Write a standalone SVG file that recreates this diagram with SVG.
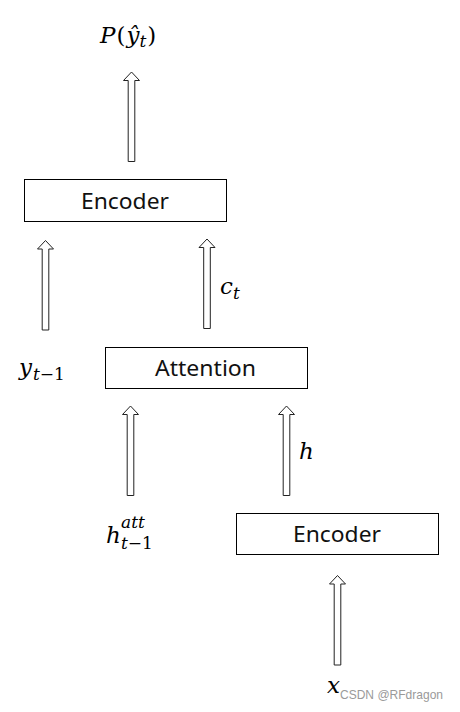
<svg xmlns="http://www.w3.org/2000/svg" width="460" height="712" viewBox="0 0 460 712">
<style>
.box{fill:#fff;stroke:#000;stroke-width:1}
.lbl{font-family:"Noto Sans","Liberation Sans",sans-serif;font-size:21px;fill:#111;text-anchor:middle}
.m{font-family:"DejaVu Serif","Liberation Serif",serif;font-style:italic;font-size:23px;fill:#000}
.s{font-size:17px}
.up{font-style:normal}
.arr{fill:#fff;stroke:#222;stroke-width:1}
.wm{font-family:"Liberation Sans",sans-serif;font-size:13px;fill:#9a9a9a}
</style>
<defs>
<path id="hollow" d="M0,0 L8,8.5 L3.3,8.5 L3.3,89.5 L-3.3,89.5 L-3.3,8.5 L-8,8.5 Z"/>
</defs>
<rect width="460" height="712" fill="#fff"/>
<g id="connectors">
<use href="#hollow" class="arr" x="131.5" y="72"/>
<use href="#hollow" class="arr" x="45.5" y="240.5"/>
<use href="#hollow" class="arr" x="207" y="239"/>
<use href="#hollow" class="arr" x="130.5" y="406"/>
<use href="#hollow" class="arr" x="286.5" y="406"/>
<use href="#hollow" class="arr" x="337.5" y="575.5"/>
</g>
<g id="decoder">
<rect class="box" x="24.5" y="179.5" width="202" height="42"/>
<text class="lbl" x="125" y="208.5" textLength="88" lengthAdjust="spacingAndGlyphs">Encoder</text>
</g>
<g id="attention">
<rect class="box" x="105.5" y="347.5" width="202" height="41"/>
<text class="lbl" x="205.5" y="376" textLength="101" lengthAdjust="spacingAndGlyphs">Attention</text>
</g>
<g id="encoder">
<rect class="box" x="236.5" y="513.5" width="202" height="41"/>
<text class="lbl" x="337" y="542" textLength="88" lengthAdjust="spacingAndGlyphs">Encoder</text>
</g>
<g id="label-p">
<text class="m" x="100" y="43">P<tspan class="up" dx="1">(</tspan><tspan dx="1">ŷ</tspan><tspan class="s" dy="4">t</tspan><tspan class="up" dy="-4" dx="1">)</tspan></text>
</g>
<g id="label-y">
<text class="m" x="19" y="375">y<tspan class="s" dy="5" dx="1">t<tspan class="up">−1</tspan></tspan></text>
</g>
<g id="label-c">
<text class="m" x="220" y="294">c<tspan class="s" dy="5">t</tspan></text>
</g>
<g id="label-h">
<text class="m" x="299" y="459">h</text>
</g>
<g id="label-hatt">
<text class="m" x="106" y="543">h</text>
<text class="m s" x="121" y="528">att</text>
<text class="m s" x="121" y="549">t<tspan class="up">−1</tspan></text>
</g>
<g id="label-x">
<text class="m" x="327" y="693">x</text>
</g>
<text class="wm" x="340" y="699" textLength="103" lengthAdjust="spacingAndGlyphs">CSDN @RFdragon</text>
</svg>
